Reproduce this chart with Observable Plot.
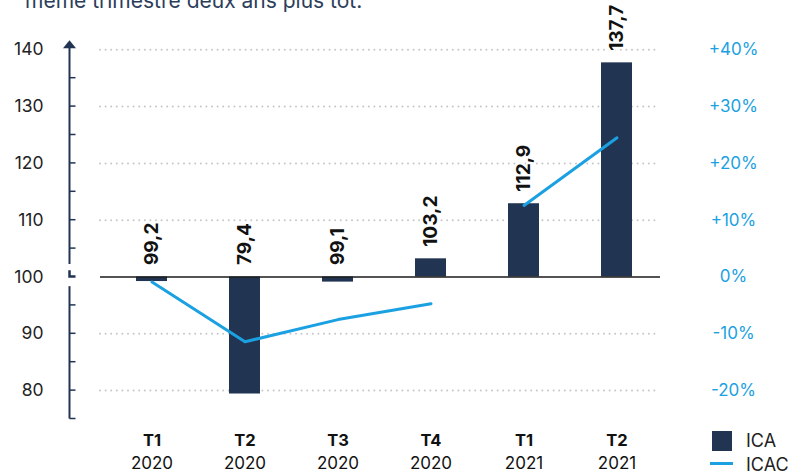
<!DOCTYPE html>
<html><head><meta charset="utf-8">
<script src="https://cdn.jsdelivr.net/npm/d3@7"></script>
<script src="https://cdn.jsdelivr.net/npm/@observablehq/plot@0.6"></script>
<style>
body{margin:0;background:#fff;font-family:Inter, sans-serif;}
#wrap{position:relative;width:792px;height:472px;overflow:hidden;background:#fff;}
#title{position:relative;height:12px;overflow:hidden;}
#title span{position:absolute;left:25px;top:-9.6px;font-size:21px;line-height:21px;color:#2c3e5a;white-space:nowrap;}
#chart svg{display:block;}
.leg{position:absolute;font-size:18px;line-height:20px;color:#222;}
</style></head><body>
<div id="wrap">
<div id="title"><span>même trimestre deux ans plus tôt.</span></div>
<div id="chart"></div>
<div class="leg" style="left:712px;top:431px;width:20px;height:20px;background:#213552"></div>
<div class="leg" style="left:746px;top:431px;">ICA</div>
<div class="leg" style="left:710px;top:462px;width:23px;height:3px;background:#1ba1e2"></div>
<div class="leg" style="left:746px;top:455px;">ICAC</div>
</div>
<script>
const quarters = ["T1 2020","T2 2020","T3 2020","T4 2020","T1 2021","T2 2021"];
const quarterLabels = ["T1","T2","T3","T4","T1","T2"];
const yearLabels = ["2020","2020","2020","2020","2021","2021"];
const ica = [99.2, 79.4, 99.1, 103.2, 112.9, 137.7];
const icac = [-0.9, -11.4, -7.5, -4.7, 12.6, 24.5];
const gridTicks = [80, 90, 110, 120, 130, 140];
const leftTicks = [80, 90, 100, 110, 120, 130, 140];
const rightTicks = [-20, -10, 0, 10, 20, 30, 40];
const minorTicks = [75, 80, 85, 90, 95, 105, 110, 115, 120, 125, 130, 135];

const navy = "#213552", blue = "#1ba1e2";
const rows = quarters.map((q, i) => ({q, quarter: quarterLabels[i], year: yearLabels[i], ica: ica[i], icac: icac[i]}));

const chart = Plot.plot({
  width: 792, height: 460,
  marginTop: 9, marginBottom: 36, marginLeft: 100, marginRight: 132,
  style: {fontFamily: "Inter, sans-serif", background: "white", overflow: "visible"},
  x: {domain: quarters, range: [133.5, 634.5], paddingInner: 0.67, paddingOuter: 0, axis: null},
  y: {domain: [71.92, 144.98], axis: null},
  marks: [
    Plot.ruleY(gridTicks, {stroke: "#c6c6c6", strokeWidth: 2, strokeDasharray: "0,5.6", strokeLinecap: "round"}),
    Plot.barY(rows, {x: "q", y1: 100, y2: "ica", fill: navy}),
    Plot.ruleY([100], {stroke: "#1a1a1a", strokeWidth: 1.5}),
    Plot.line(rows, {x: "q", y: d => 100 + d.icac, z: "year", stroke: blue, strokeWidth: 3}),
    Plot.text(rows, {x: "q", y: d => Math.max(d.ica, 100), text: d => d.ica.toFixed(1).replace(".", ","),
      rotate: -90, textAnchor: "start", lineAnchor: "middle", dy: -12, fontSize: 19, fontWeight: 700,
      fill: "#111", stroke: "white", strokeWidth: 4, paintOrder: "stroke", strokeLinejoin: "round"}),
    Plot.text(rows, {x: "q", text: "quarter", frameAnchor: "bottom", dy: 4, lineAnchor: "middle", fontSize: 16.5, fontWeight: 700, fill: "#111"}),
    Plot.text(rows, {x: "q", text: "year", frameAnchor: "bottom", dy: 27, lineAnchor: "middle", fontSize: 17, fill: "#111"}),
    Plot.text(leftTicks, {y: d => d, text: d => String(d), frameAnchor: "left", dx: -57, textAnchor: "end", fontSize: 17.5, fill: "#222"}),
    Plot.text(rightTicks, {y: d => 100 + d, text: d => (d > 0 ? "+" : "") + d + "%", frameAnchor: "right", dx: 73, textAnchor: "middle", fontSize: 17, fill: blue})
  ]
});
document.getElementById("chart").appendChild(chart);

// left axis decoration (line with break, minor ticks, arrow) using Plot's y scale
const ys = chart.scale("y");
const Y = v => ys.apply(v);
const ax = 69.5;
const g = d3.select(chart).append("g").attr("stroke", navy).attr("fill", "none");
g.append("line").attr("x1", ax).attr("x2", ax).attr("y1", Y(75)).attr("y2", Y(98.3)).attr("stroke-width", 2);
g.append("line").attr("x1", ax).attr("x2", ax).attr("y1", Y(102.2)).attr("y2", Y(140.3)).attr("stroke-width", 2);
g.selectAll(".mt").data(minorTicks).enter().append("line")
  .attr("x1", ax).attr("x2", ax + 6).attr("y1", d => Y(d)).attr("y2", d => Y(d)).attr("stroke-width", 1.5);
g.append("path").attr("d", `M${ax},${Y(101.1)}V${Y(100)}H${ax + 6}`).attr("stroke-width", 2.5);
g.append("path").attr("d", `M${ax - 6.5},${Y(140.2)}L${ax + 6.5},${Y(140.2)}L${ax},${Y(141.6)}Z`).attr("fill", navy).attr("stroke", "none");
</script>
</body></html>
